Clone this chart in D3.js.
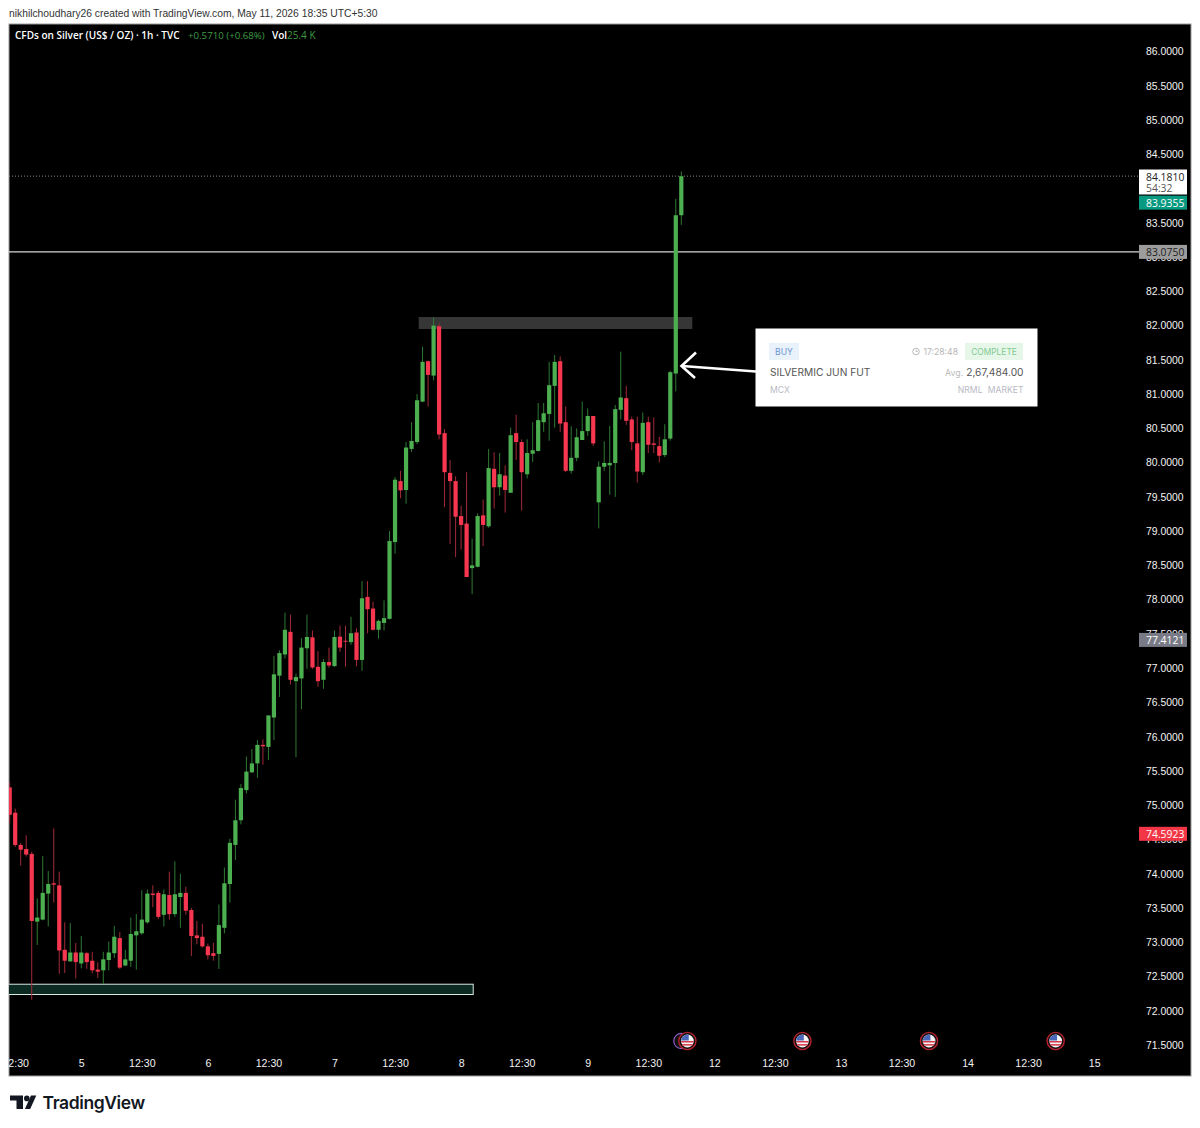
<!DOCTYPE html>
<html>
<head>
<meta charset="utf-8">
<title>CFDs on Silver</title>
<script src="https://cdn.jsdelivr.net/npm/d3@7"></script>
<style>
  html, body { margin: 0; padding: 0; background: #fff; }
  svg { display: block; font-family: "Open Sans", "DejaVu Sans", sans-serif; }
  .axis path, .axis line { display: none; }
</style>
</head>
<body>
<div id="chart"></div>
<script>
"use strict";
const chartTitle = "CFDs on Silver (US$ / OZ) · 1h · TVC";
const changeText = "+0.5710 (+0.68%)";
const volumeText = "25.4 K";
const headerText = "nikhilchoudhary26 created with TradingView.com, May 11, 2026 18:35 UTC+5:30";

// hourly candles, bar 0 is the first one on the left
const opens = [75.26,74.89,74.42,74.36,74.29,73.30,73.33,73.71,73.86,73.83,72.89,72.72,72.85,72.69,72.84,72.73,72.60,72.59,72.74,72.84,73.06,72.66,72.73,73.10,73.13,73.29,73.71,73.72,73.40,73.69,73.41,73.66,73.72,73.47,73.10,73.08,72.94,72.84,72.83,73.21,73.85,74.42,74.78,
  75.22,75.48,75.61,75.88,75.85,76.28,76.89,77.20,77.53,76.81,76.85,77.29,77.45,77.02,76.83,77.09,77.03,77.46,77.40,77.38,77.52,77.12,78.04,77.87,77.56,77.66,77.72,
  78.84,79.73,79.60,80.20,80.30,80.89,81.48,81.27,81.99,80.43,79.85,79.73,79.22,79.11,78.46,78.48,79.23,79.07,79.91,79.64,79.81,79.56,80.43,80.30,79.83,80.13,80.17,
  80.59,80.71,81.12,81.48,80.59,79.88,80.07,80.33,80.46,80.68,79.42,79.94,79.96,79.995,80.77,80.94,80.63,80.28,79.86,80.59,80.28,80.24,80.11,80.35,81.30,83.61];
const highs = [75.33,74.95,74.45,74.56,74.32,73.64,74.26,74.04,74.66,74.03,73.29,73.28,72.99,73.09,72.86,72.86,72.71,72.86,73.01,73.24,73.15,72.89,73.36,73.41,73.76,73.77,73.83,73.75,73.77,74.03,74.18,74.00,73.81,73.50,73.31,73.27,72.98,72.99,73.55,74.09,74.51,75.08,75.31,
  75.71,75.82,75.95,75.96,76.31,77.18,77.26,77.81,77.78,76.92,77.44,77.78,77.55,77.25,77.13,77.30,77.55,77.62,77.62,77.75,77.58,78.27,78.27,77.97,77.71,77.99,79.00,
  79.79,79.88,80.30,80.59,81.00,81.69,81.49,82.12,82.03,80.49,80.04,79.80,79.37,79.86,78.89,79.26,79.46,80.20,80.15,80.14,79.96,80.51,80.70,80.34,80.34,80.59,80.87,
  80.87,81.47,81.57,81.55,80.82,80.53,80.50,80.89,80.79,80.68,80.02,80.31,80.535,80.84,81.62,81.12,80.67,80.67,80.73,80.67,80.66,80.38,80.56,81.34,83.85,84.25];
const lows = [74.74,74.39,74.12,74.25,72.16,72.96,73.32,73.23,73.58,72.54,72.55,72.72,72.47,72.62,72.61,72.55,72.48,72.39,72.59,72.77,72.61,72.65,72.64,72.60,73.11,73.27,73.51,73.34,73.23,73.33,73.37,73.21,73.40,72.80,72.97,72.92,72.75,72.73,72.61,73.13,73.58,74.20,74.72,
  75.17,75.47,75.40,75.59,75.66,75.95,76.58,77.14,76.76,75.70,76.40,76.99,76.99,76.73,76.70,77.01,77.02,77.24,77.02,77.34,77.03,76.96,77.51,77.55,77.43,77.55,77.71,
  78.67,79.48,79.40,80.155,80.27,80.88,80.82,81.20,80.34,79.35,78.81,78.62,78.73,78.33,78.08,78.47,78.78,79.05,79.33,79.52,79.27,79.56,80.04,79.30,79.77,80.01,80.16,
  80.45,80.32,80.51,80.45,79.86,79.84,80.02,80.33,80.39,80.24,79.04,79.88,79.53,79.50,80.63,80.55,80.18,79.71,79.82,80.14,80.14,80.00,80.08,80.32,81.04,83.47];
const closes = [74.86,74.42,74.35,74.28,73.31,73.36,73.72,73.85,73.84,72.88,72.73,72.85,72.71,72.85,72.71,72.59,72.57,72.75,72.85,73.08,72.63,72.75,73.12,73.16,73.33,73.71,73.69,73.37,73.70,73.41,73.70,73.72,73.46,73.09,73.06,72.94,72.81,72.80,73.25,73.86,74.45,74.78,75.25,
  75.49,75.61,75.88,75.86,76.31,76.91,77.22,77.56,76.83,76.87,77.30,77.455,77.01,76.81,77.09,77.04,77.455,77.30,77.39,77.51,77.12,78.02,77.86,77.56,77.69,77.73,78.855,
  79.75,79.595,80.22,80.315,80.91,81.47,81.28,82.00,80.41,79.86,79.73,79.21,79.09,78.33,78.50,79.22,79.09,79.92,79.64,79.83,79.60,80.40,80.30,79.86,80.14,80.18,80.62,
  80.72,81.13,81.47,80.57,79.88,80.07,80.37,80.46,80.68,80.28,79.94,79.995,79.995,80.78,80.95,80.61,80.30,79.87,80.58,80.26,80.26,80.10,80.34,81.32,83.61,84.18];

// 84.0000 is fully hidden by the last price box in the reference, so it is left out
const priceTicks = d3.range(71.5, 86.01, 0.5).filter(d => d !== 84);
const timeTickBars = [1,13,24,36,47,59,70,82,93,105,116,128,139,151,162,174,185,197];
const timeTickLabels = ["12:30","5","12:30","6","12:30","7","12:30","8","12:30","9","12:30","12","12:30","13","12:30","14","12:30","15"];
const eventBars = [123.1,144,167,190];

// drawn levels and zones
const lastPrice = 84.181;
const levelPrice = 83.075;
const resistanceZone = { startBar: 74.3, endBar: 124, top: 82.125, bottom: 81.95 };
const supportZone = { startBar: -2, endBar: 84.2, top: 72.387, bottom: 72.237 };

// price tags on the right axis
const tagValues = [83.9355, 83.075, 77.4121, 74.5923];
const tagColors = ["#089981", "#9c9c9c", "#787b86", "#f23645"];

const UP = "#4caf50", DOWN = "#f7374f";
const UP_WICK = "#2f7a33", DOWN_WICK = "#a32a3a";

const width = 1200, height = 1128;
const panel = { left: 9, top: 24, right: 1191, bottom: 1076 };

const x = d3.scaleLinear().domain([0, 122]).range([9.7, 681.3]);
const y = d3.scaleLinear().domain([71.5, 86]).range([1045, 51.5]);

const svg = d3.select("#chart").append("svg")
    .attr("width", width)
    .attr("height", height);

svg.append("text")
    .attr("x", 9).attr("y", 16.5)
    .attr("font-family", "Liberation Sans, sans-serif")
    .attr("font-size", 10.3).attr("fill", "#333")
    .text(headerText);

svg.append("rect")
    .attr("x", panel.left).attr("y", panel.top)
    .attr("width", panel.right - panel.left).attr("height", panel.bottom - panel.top)
    .attr("fill", "#000").attr("stroke", "#9a9a9a");

svg.append("defs").append("clipPath").attr("id", "panel-clip")
    .append("rect")
    .attr("x", panel.left).attr("y", panel.top)
    .attr("width", panel.right - panel.left).attr("height", panel.bottom - panel.top);

const plot = svg.append("g").attr("clip-path", "url(#panel-clip)");

// zones sit behind the candles
plot.append("rect")
    .attr("x", x(resistanceZone.startBar)).attr("y", y(resistanceZone.top))
    .attr("width", x(resistanceZone.endBar) - x(resistanceZone.startBar))
    .attr("height", y(resistanceZone.bottom) - y(resistanceZone.top))
    .attr("fill", "#363636");

plot.append("rect")
    .attr("x", x(supportZone.startBar)).attr("y", y(supportZone.top))
    .attr("width", x(supportZone.endBar) - x(supportZone.startBar))
    .attr("height", y(supportZone.bottom) - y(supportZone.top))
    .attr("fill", "#0b2a22").attr("stroke", "#d8e8e2").attr("stroke-width", 1);

plot.append("line")
    .attr("x1", panel.left).attr("x2", 1139)
    .attr("y1", y(lastPrice)).attr("y2", y(lastPrice))
    .attr("stroke", "#8a8a8a").attr("stroke-dasharray", "1 2");

plot.append("line")
    .attr("x1", panel.left).attr("x2", 1139)
    .attr("y1", y(levelPrice)).attr("y2", y(levelPrice))
    .attr("stroke", "#d6d6d6").attr("stroke-width", 1.2);

// candles
const bars = d3.range(opens.length);
const isUp = i => closes[i] >= opens[i];

plot.selectAll("line.wick")
    .data(bars)
    .enter()
    .append("line")
    .attr("class", "wick")
    .attr("x1", i => x(i)).attr("x2", i => x(i))
    .attr("y1", i => y(highs[i])).attr("y2", i => y(lows[i]))
    .attr("stroke", i => isUp(i) ? UP_WICK : DOWN_WICK)
    .attr("stroke-width", 1);

plot.selectAll("rect.body")
    .data(bars)
    .enter()
    .append("rect")
    .attr("class", "body")
    .attr("x", i => x(i) - 2.1)
    .attr("width", 4.2)
    .attr("y", i => y(Math.max(opens[i], closes[i])))
    .attr("height", i => Math.max(1, Math.abs(y(opens[i]) - y(closes[i]))))
    .attr("fill", i => isUp(i) ? UP : DOWN);

// price axis
const priceAxis = d3.axisRight(y)
    .tickValues(priceTicks)
    .tickFormat(d3.format(".4f"))
    .tickSize(0)
    .tickPadding(0);

svg.append("g")
    .attr("class", "axis")
    .attr("transform", "translate(1146,0)")
    .call(priceAxis)
    .call(g => g.selectAll("text").attr("font-size", 10.4).attr("font-family", "inherit").attr("fill", "#f2f2f2"));

// time axis, clipped so the first label is cut at the edge
const timeAxis = d3.axisBottom(x)
    .tickValues(timeTickBars)
    .tickFormat((d, i) => timeTickLabels[i])
    .tickSize(0)
    .tickPadding(0);

plot.append("g")
    .attr("class", "axis")
    .attr("transform", "translate(0,1059.5)")
    .call(timeAxis)
    .call(g => g.selectAll("text").attr("font-size", 10.6).attr("font-family", "inherit").attr("fill", "#f2f2f2"));

// economic event flags above the time axis
const flagY = 1041;
svg.append("circle")
    .attr("cx", x(eventBars[0]) - 6).attr("cy", flagY).attr("r", 7.6)
    .attr("fill", "#111").attr("stroke", "#8a5ac2").attr("stroke-width", 1.2);

const flags = svg.selectAll("g.flag")
    .data(eventBars)
    .enter()
    .append("g")
    .attr("class", "flag")
    .attr("transform", d => `translate(${x(d)},${flagY})`);
flags.append("circle").attr("r", 8.6).attr("fill", "#111").attr("stroke", "#b3202e").attr("stroke-width", 1.4);
flags.append("circle").attr("r", 6.4).attr("fill", "#f4f4f4");
flags.append("rect").attr("x", -6.2).attr("y", 0).attr("width", 12.4).attr("height", 1.5).attr("fill", "#d9384a");
flags.append("rect").attr("x", -5.2).attr("y", 3.1).attr("width", 10.4).attr("height", 1.5).attr("fill", "#d9384a");
flags.append("path").attr("d", "M-6.3,-0.6 A6.4,6.4 0 0 1 1.4,-6.2 L1.4,-0.6 Z").attr("fill", "#4a66b8");

// right side tags
const tagLeft = 1139, tagWidth = 48, tagHeight = 14;
svg.append("rect")
    .attr("x", tagLeft).attr("y", 169.5)
    .attr("width", tagWidth).attr("height", 25)
    .attr("fill", "#fff");
svg.append("text")
    .attr("x", 1146).attr("y", 181)
    .attr("font-size", 10.4).attr("fill", "#222")
    .text(d3.format(".4f")(lastPrice));
svg.append("text")
    .attr("x", 1146).attr("y", 192)
    .attr("font-size", 10.4).attr("fill", "#555")
    .text("54:32");

// the first tag is pushed down below the last price box, as the platform does
const tagShift = [9.7, 0, 0, 0.7];
const tags = svg.selectAll("g.tag")
    .data(tagValues)
    .enter()
    .append("g")
    .attr("class", "tag")
    .attr("transform", (d, i) => `translate(${tagLeft},${y(d) - tagHeight / 2 + tagShift[i]})`);
tags.append("rect")
    .attr("width", tagWidth).attr("height", tagHeight)
    .attr("fill", (d, i) => tagColors[i]);
tags.append("text")
    .attr("x", 7).attr("y", 11)
    .attr("font-size", 10.4)
    .attr("fill", (d, i) => i === 1 ? "#222" : "#fff")
    .text(d => d3.format(".4f")(d));

// legend
const legend = svg.append("text").attr("x", 15).attr("y", 39).attr("font-size", 10);
legend.append("tspan").attr("fill", "#fff").attr("font-weight", 600).text(chartTitle);
legend.append("tspan").attr("x", 188).attr("fill", "#3f9a46").attr("font-size", 9.7).text(changeText);
legend.append("tspan").attr("x", 272).attr("fill", "#fff").attr("font-weight", 600).text("Vol");
legend.append("tspan").attr("x", 287).attr("fill", "#3f9a46").text(volumeText);

// pasted order card and its arrow
const card = svg.append("g").attr("font-family", "Inter, sans-serif");
card.append("rect")
    .attr("x", 755.5).attr("y", 328.5)
    .attr("width", 282).attr("height", 78)
    .attr("fill", "#fff");
card.append("rect").attr("x", 769).attr("y", 343).attr("width", 30).attr("height", 17).attr("fill", "#e9f1fb");
card.append("text").attr("x", 784).attr("y", 354.5).attr("text-anchor", "middle").attr("font-size", 8.6).attr("fill", "#6b97cf").text("BUY");
card.append("circle").attr("cx", 916).attr("cy", 351.5).attr("r", 3.3).attr("fill", "none").attr("stroke", "#aaa").attr("stroke-width", 0.8);
card.append("path").attr("d", "M916,349.5 V351.5 H918").attr("fill", "none").attr("stroke", "#aaa").attr("stroke-width", 0.7);
card.append("text").attr("x", 923.5).attr("y", 354.5).attr("font-size", 8.6).attr("fill", "#b5b5b5").text("17:28:48");
card.append("rect").attr("x", 965).attr("y", 343).attr("width", 58).attr("height", 17).attr("fill", "#e6f7ea");
card.append("text").attr("x", 994).attr("y", 354.5).attr("text-anchor", "middle").attr("font-size", 8.4).attr("fill", "#7fc98e").text("COMPLETE");
card.append("text").attr("x", 770).attr("y", 376).attr("font-size", 10.2).attr("fill", "#555").text("SILVERMIC JUN FUT");
card.append("text").attr("x", 945).attr("y", 376).attr("font-size", 8.8).attr("fill", "#bbb").text("Avg.");
card.append("text").attr("x", 1023.5).attr("y", 376).attr("text-anchor", "end").attr("font-size", 10.2).attr("fill", "#555").text("2,67,484.00");
card.append("text").attr("x", 770).attr("y", 393).attr("font-size", 8.6).attr("fill", "#b9b9c4").text("MCX");
card.append("text").attr("x", 982.5).attr("y", 393).attr("text-anchor", "end").attr("font-size", 8.6).attr("fill", "#b9b9c4").text("NRML");
card.append("text").attr("x", 1023.5).attr("y", 393).attr("text-anchor", "end").attr("font-size", 8.6).attr("fill", "#b9b9c4").text("MARKET");

svg.append("path")
    .attr("d", "M756,371.5 L682,366 M696,352.5 L681.5,366 L695,378")
    .attr("fill", "none").attr("stroke", "#fff").attr("stroke-width", 2.6);

// TradingView logo
const logo = svg.append("g").attr("transform", "translate(10,1095.6)").attr("fill", "#131722");
logo.append("path").attr("d", "M0,0 H13 V13.3 H6.5 V5 H0 Z");
logo.append("circle").attr("cx", 16.8).attr("cy", 2.8).attr("r", 2.8);
logo.append("path").attr("d", "M21,0 H26.3 L20.2,13.3 H14.9 Z");
svg.append("text")
    .attr("x", 42.5).attr("y", 1108.5)
    .attr("font-family", "Inter, sans-serif")
    .attr("font-size", 17.5).attr("font-weight", 600).attr("fill", "#131722")
    .attr("letter-spacing", -0.4)
    .text("TradingView");
</script>
</body>
</html>
